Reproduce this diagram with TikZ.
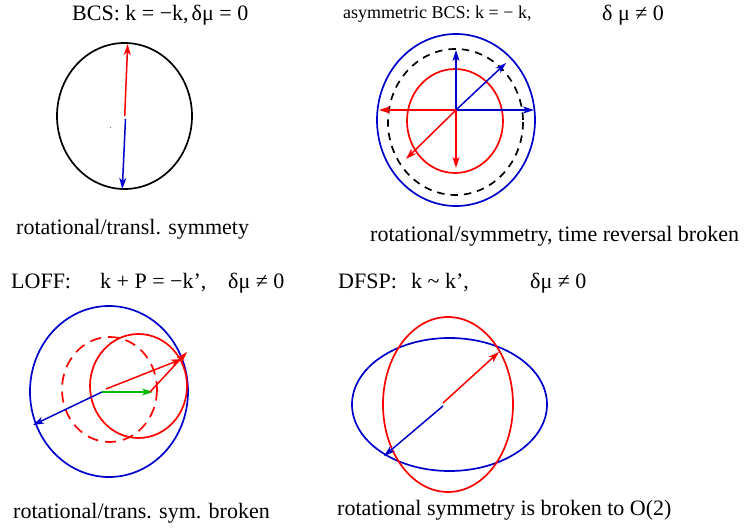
\documentclass[tikz,border=0pt]{standalone}
\usepackage{fontspec}
\setmainfont{Liberation Serif}
\usetikzlibrary{arrows.meta}
\definecolor{fblue}{RGB}{0,0,205}
\definecolor{fred}{RGB}{255,0,0}
\definecolor{fgreen}{RGB}{0,185,0}
\begin{document}
\begin{tikzpicture}[x=1pt,y=-1pt,
  curve/.style={line width=1.7pt},
  vec/.style={line width=1.5pt,-{Stealth[length=11pt,width=7pt,inset=3pt]}},
  big/.style={font=\fontsize{22}{26}\selectfont, inner sep=0pt, anchor=base west},
  small/.style={font=\fontsize{18}{22}\selectfont, inner sep=0pt, anchor=base west}]
\useasboundingbox (0,0) rectangle (748,530);

% ---------- panel 1: BCS ----------
\node[big] (title1) at (72,20) {BCS: k = −k,\hspace{3pt}δμ = 0};
\draw[curve] (124.5,116) ellipse [x radius=67.5, y radius=73];
\coordinate (o1r) at (124.7,116); \coordinate (t1r) at (127.7,44);
\coordinate (o1b) at (125.5,119); \coordinate (t1b) at (122.3,189);
\draw[vec,fred] (o1r) -- (t1r);
\draw[vec,fblue] (o1b) -- (t1b);
\fill[gray] (110.5,127.5) circle [radius=0.6];
\node[big] (cap1) at (16,234) {rotational/transl. symmety};

% ---------- panel 2: asymmetric BCS ----------
\node[small] (title2a) at (343,18) {asymmetric BCS: k = − k,};
\node[big] (title2b) at (602,20) {δ μ ≠ 0};
\draw[curve,fblue] (456,120) ellipse [x radius=79, y radius=86];
\draw[curve,dash pattern=on 7.5pt off 6pt] (455.5,122) ellipse [x radius=67.5, y radius=73];
\draw[curve,fred] (455,121) ellipse [x radius=48, y radius=52];
\coordinate (o2) at (456,110);
\coordinate (b2u) at (456,50); \coordinate (b2r) at (534,110); \coordinate (b2d) at (506,63);
\coordinate (r2l) at (379,110); \coordinate (r2d) at (456,168); \coordinate (r2dl) at (406,159);
\draw[vec,fblue] (o2) -- (b2u);
\draw[vec,fblue] (o2) -- (b2r);
\draw[vec,fblue] (o2) -- (b2d);
\draw[vec,fred] (o2) -- (r2l);
\draw[vec,fred] (o2) -- (r2d);
\draw[vec,fred] (o2) -- (r2dl);
\node[big] (cap2) at (370,241) {rotational/symmetry, time reversal broken};

% ---------- panel 3: LOFF ----------
\node[big] (title3a) at (11,288) {LOFF:};
\node[big] (title3b) at (100,288) {k + P = −k’,};
\node[big] (title3c) at (228,288) {δμ ≠ 0};
\draw[curve,fblue] (109,391.5) ellipse [x radius=79, y radius=85.5];
\draw[curve,fred] (138.5,386) ellipse [x radius=48.5, y radius=52];
\draw[curve,fred,dash pattern=on 11pt off 7pt] (109.5,389.5) ellipse [x radius=47.5, y radius=52.5];
\coordinate (o3) at (102,392);
\coordinate (b3) at (33,425);
\coordinate (g3) at (153,392);
\coordinate (o3r) at (106,389); \coordinate (t3r) at (182,359);
\coordinate (o3s) at (150,392); \coordinate (t3s) at (187,352);
\draw[vec,fblue] (o3) -- (b3);
\draw[vec,fgreen] (o3) -- (g3);
\draw[vec,fred] (o3r) -- (t3r);
\draw[vec,fred] (o3s) -- (t3s);
\node[big] (cap3) at (13,518) {rotational/trans. sym. broken};

% ---------- panel 4: DFSP ----------
\node[big] (title4a) at (338,288) {DFSP:};
\node[big] (title4b) at (411,288) {k \textasciitilde\ k’,};
\node[big] (title4c) at (530,288) {δμ ≠ 0};
\draw[curve,fblue] (449.5,404.5) ellipse [x radius=97.5, y radius=66.5];
\draw[curve,fred] (448,404.5) ellipse [x radius=65, y radius=87.5];
\coordinate (o4r) at (443,403); \coordinate (t4r) at (499,352);
\coordinate (o4b) at (443,406); \coordinate (t4b) at (384,456);
\draw[vec,fred] (o4r) -- (t4r);
\draw[vec,fblue] (o4b) -- (t4b);
\node[big] (cap4) at (337,515) {rotational symmetry is broken to O(2)};
\end{tikzpicture}
\end{document}
